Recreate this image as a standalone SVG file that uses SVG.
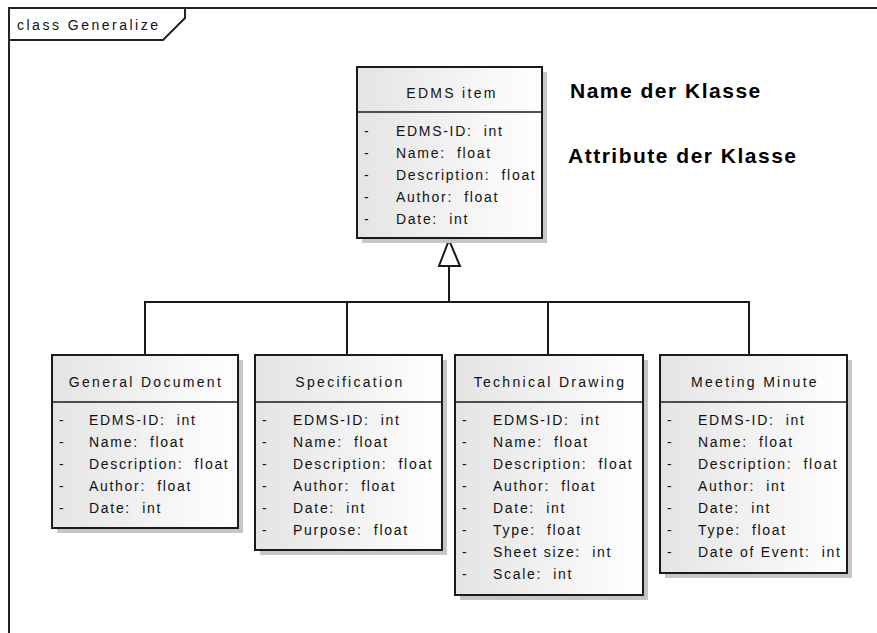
<svg xmlns="http://www.w3.org/2000/svg" width="877" height="633" viewBox="0 0 877 633">
  <defs>
    <linearGradient id="boxFill" x1="0" y1="0" x2="1" y2="0">
      <stop offset="0" stop-color="#e4e4e4"/>
      <stop offset="1" stop-color="#ffffff"/>
    </linearGradient>
  </defs>
  <style>
    .frame { fill: none; stroke: #222; stroke-width: 2; }
    .shadow { fill: #c6c6c6; }
    .box { fill: url(#boxFill); stroke: #1a1a1a; stroke-width: 2; }
    .div { stroke: #1a1a1a; stroke-width: 1.5; }
    .conn { fill: none; stroke: #1a1a1a; stroke-width: 2; }
    .head { fill: #fff; stroke: #1a1a1a; stroke-width: 2; }
    text { font-family: "Liberation Sans", Arial, sans-serif; fill: #111; white-space: pre; }
    .title { font-size: 14px; letter-spacing: 2.3px; text-anchor: middle; }
    .attr { font-size: 14px; letter-spacing: 1.7px; }
    .frameLabel { font-size: 14px; letter-spacing: 2.5px; }
    .note { font-size: 21px; font-weight: bold; letter-spacing: 1.5px; fill: #000; }
  </style>

  <!-- diagram frame -->
  <g id="frame">
    <path class="frame" d="M9,633 V8 H877"/>
    <path class="frame" d="M9,40 H163 L185,18 V8"/>
    <text class="frameLabel" x="17" y="30">class Generalize</text>
  </g>

  <!-- annotations -->
  <g id="notes">
    <text class="note" x="570" y="98">Name der Klasse</text>
    <text class="note" x="568" y="163">Attribute der Klasse</text>
  </g>

  <!-- generalization connectors -->
  <g id="connectors">
    <path class="conn" d="M449,266 V302"/>
    <path class="conn" d="M145,355 V302 H749 V355"/>
    <path class="conn" d="M347,302 V355"/>
    <path class="conn" d="M548,302 V355"/>
    <polygon class="head" points="449,240 439,266 460,266"/>
  </g>

  <g id="edms-item">
    <rect class="shadow" x="362" y="72" width="185" height="171"/>
    <rect class="box" x="357" y="67" width="185" height="171"/>
    <line class="div" x1="357" y1="112" x2="542" y2="112"/>
    <text class="title" x="452" y="98">EDMS item</text>
    <text class="attr" x="364" y="136">-</text><text class="attr" x="396" y="136">EDMS-ID:  int</text>
    <text class="attr" x="364" y="158">-</text><text class="attr" x="396" y="158">Name:  float</text>
    <text class="attr" x="364" y="180">-</text><text class="attr" x="396" y="180">Description:  float</text>
    <text class="attr" x="364" y="202">-</text><text class="attr" x="396" y="202">Author:  float</text>
    <text class="attr" x="364" y="224">-</text><text class="attr" x="396" y="224">Date:  int</text>
  </g>

  <g id="general-document">
    <rect class="shadow" x="57" y="360" width="186" height="173"/>
    <rect class="box" x="52" y="355" width="186" height="173"/>
    <line class="div" x1="52" y1="402" x2="238" y2="402"/>
    <text class="title" x="146" y="387">General Document</text>
    <text class="attr" x="59" y="425">-</text><text class="attr" x="89" y="425">EDMS-ID:  int</text>
    <text class="attr" x="59" y="447">-</text><text class="attr" x="89" y="447">Name:  float</text>
    <text class="attr" x="59" y="469">-</text><text class="attr" x="89" y="469">Description:  float</text>
    <text class="attr" x="59" y="491">-</text><text class="attr" x="89" y="491">Author:  float</text>
    <text class="attr" x="59" y="513">-</text><text class="attr" x="89" y="513">Date:  int</text>
  </g>

  <g id="specification">
    <rect class="shadow" x="260" y="360" width="187" height="195"/>
    <rect class="box" x="255" y="355" width="187" height="195"/>
    <line class="div" x1="255" y1="402" x2="442" y2="402"/>
    <text class="title" x="350" y="387">Specification</text>
    <text class="attr" x="262" y="425">-</text><text class="attr" x="293" y="425">EDMS-ID:  int</text>
    <text class="attr" x="262" y="447">-</text><text class="attr" x="293" y="447">Name:  float</text>
    <text class="attr" x="262" y="469">-</text><text class="attr" x="293" y="469">Description:  float</text>
    <text class="attr" x="262" y="491">-</text><text class="attr" x="293" y="491">Author:  float</text>
    <text class="attr" x="262" y="513">-</text><text class="attr" x="293" y="513">Date:  int</text>
    <text class="attr" x="262" y="535">-</text><text class="attr" x="293" y="535">Purpose:  float</text>
  </g>

  <g id="technical-drawing">
    <rect class="shadow" x="460" y="360" width="188" height="240"/>
    <rect class="box" x="455" y="355" width="188" height="240"/>
    <line class="div" x1="455" y1="402" x2="643" y2="402"/>
    <text class="title" x="550" y="387">Technical Drawing</text>
    <text class="attr" x="462" y="425">-</text><text class="attr" x="493" y="425">EDMS-ID:  int</text>
    <text class="attr" x="462" y="447">-</text><text class="attr" x="493" y="447">Name:  float</text>
    <text class="attr" x="462" y="469">-</text><text class="attr" x="493" y="469">Description:  float</text>
    <text class="attr" x="462" y="491">-</text><text class="attr" x="493" y="491">Author:  float</text>
    <text class="attr" x="462" y="513">-</text><text class="attr" x="493" y="513">Date:  int</text>
    <text class="attr" x="462" y="535">-</text><text class="attr" x="493" y="535">Type:  float</text>
    <text class="attr" x="462" y="557">-</text><text class="attr" x="493" y="557">Sheet size:  int</text>
    <text class="attr" x="462" y="579">-</text><text class="attr" x="493" y="579">Scale:  int</text>
  </g>

  <g id="meeting-minute">
    <rect class="shadow" x="665" y="360" width="187" height="218"/>
    <rect class="box" x="660" y="355" width="187" height="218"/>
    <line class="div" x1="660" y1="402" x2="847" y2="402"/>
    <text class="title" x="755" y="387">Meeting Minute</text>
    <text class="attr" x="667" y="425">-</text><text class="attr" x="698" y="425">EDMS-ID:  int</text>
    <text class="attr" x="667" y="447">-</text><text class="attr" x="698" y="447">Name:  float</text>
    <text class="attr" x="667" y="469">-</text><text class="attr" x="698" y="469">Description:  float</text>
    <text class="attr" x="667" y="491">-</text><text class="attr" x="698" y="491">Author:  int</text>
    <text class="attr" x="667" y="513">-</text><text class="attr" x="698" y="513">Date:  int</text>
    <text class="attr" x="667" y="535">-</text><text class="attr" x="698" y="535">Type:  float</text>
    <text class="attr" x="667" y="557">-</text><text class="attr" x="698" y="557">Date of Event:  int</text>
  </g>
</svg>
